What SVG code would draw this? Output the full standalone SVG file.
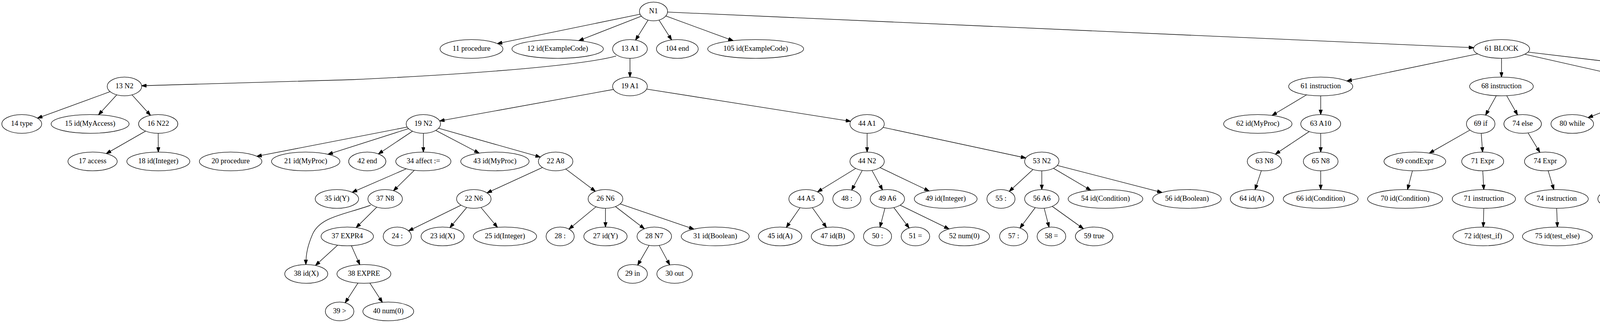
<svg xmlns="http://www.w3.org/2000/svg" width="5273" height="827" viewBox="0 0 5273 827">
<style>
.nd ellipse{fill:none;stroke:#000;stroke-width:1.33}
.nd text{font-family:"Liberation Serif","Times New Roman",serif;font-size:18.67px;text-anchor:middle;fill:#000}
.e{fill:none;stroke:#000;stroke-width:1.33;marker-end:url(#arr)}
</style>
<defs>
<marker id="arr" viewBox="0 0 13.33 9.33" refX="12.6" refY="4.67" markerWidth="13.33" markerHeight="9.33" orient="auto" markerUnits="userSpaceOnUse">
<path d="M0,0 L13.33,4.67 L0,9.33 z" fill="#000" stroke="#000" stroke-width="1"/>
</marker>
</defs>
<rect x="0" y="0" width="5273" height="827" fill="#fff"/>
<g id="edges">
<path class="e" d="M1638.6,36.4 L1273.2,111.7"/>
<path class="e" d="M1642,41.4 L1481.9,104"/>
<path class="e" d="M1659.1,51.4 L1627,102.6"/>
<path class="e" d="M1687,51.4 L1719.3,102.2"/>
<path class="e" d="M1704.5,40.9 L1876.8,104.1"/>
<path class="e" d="M1708.9,30.9 L3772.9,122.2"/>
<path class="e" d="M1577.4,143.3 C1500,165 1250,188 900,204 C700,211 500,217 362.8,219.5"/>
<path class="e" d="M1612.7,149.3 L1612.7,197.3"/>
<path class="e" d="M281.9,234.7 L96,302.6"/>
<path class="e" d="M298.9,242.8 L252.2,293.9"/>
<path class="e" d="M338,242.9 L385.2,295.3"/>
<path class="e" d="M372.8,335.7 L272,393.3"/>
<path class="e" d="M405,341.3 L405.3,389.3"/>
<path class="e" d="M1570.5,229 L1125.5,309.7"/>
<path class="e" d="M1655.4,228.1 L2177.6,310.6"/>
<path class="e" d="M1042.4,325.4 L657.5,400.2"/>
<path class="e" d="M1045.8,329.4 L839.7,395.1"/>
<path class="e" d="M1056,335.9 L968.7,394.2"/>
<path class="e" d="M1083.8,341.3 L1083.8,389.3"/>
<path class="e" d="M1115.5,333.9 L1226.4,392"/>
<path class="e" d="M1122.8,328.4 L1383.2,402.2"/>
<path class="e" d="M1040.3,432.2 L901.7,492.3"/>
<path class="e" d="M1060.7,436 L1007.4,488.3"/>
<path class="e" d="M948.9,525.5 C880,550 820,555 800,600 C788,628 783,650 783,677.3"/>
<path class="e" d="M964.7,530.3 L911.8,582.7"/>
<path class="e" d="M864.6,627.6 L807.7,679.6"/>
<path class="e" d="M899.5,629 L921.1,677.6"/>
<path class="e" d="M916.4,724.7 L883.7,775.2"/>
<path class="e" d="M946.8,724.7 L978.8,774"/>
<path class="e" d="M1388.6,428.8 L1246.8,493.8"/>
<path class="e" d="M1448.3,432.8 L1524.1,489.8"/>
<path class="e" d="M1180.2,525.4 L1046,591.1"/>
<path class="e" d="M1194.8,531.2 L1151.8,582.7"/>
<path class="e" d="M1231.2,531.2 L1273.4,582"/>
<path class="e" d="M1525.7,529.4 L1456.6,586.6"/>
<path class="e" d="M1550,533.3 L1550,581.3"/>
<path class="e" d="M1575.6,528.9 L1649.5,585.7"/>
<path class="e" d="M1587.6,522.1 L1776.3,586.6"/>
<path class="e" d="M1661.7,628.2 L1632.4,678.8"/>
<path class="e" d="M1687.5,628.3 L1714.5,678.2"/>
<path class="e" d="M2219.8,341.3 L2219.8,389.3"/>
<path class="e" d="M2260.8,326.1 L2626.1,404.5"/>
<path class="e" d="M2190.6,431.3 L2092.9,491.3"/>
<path class="e" d="M2207.4,436.3 L2180.2,486.7"/>
<path class="e" d="M2232.2,436.3 L2259.3,486.3"/>
<path class="e" d="M2252.9,429.1 L2378.4,489"/>
<path class="e" d="M2048,531.8 L2013,582.3"/>
<path class="e" d="M2079.6,531.7 L2115.7,582.4"/>
<path class="e" d="M2265.5,533.1 L2252.7,581.7"/>
<path class="e" d="M2288.3,531.5 L2327.4,583.8"/>
<path class="e" d="M2304.5,525.3 L2429.4,586.2"/>
<path class="e" d="M2644.5,433.9 L2583.7,489.9"/>
<path class="e" d="M2667,437.3 L2667,485.3"/>
<path class="e" d="M2696.9,430.9 L2792.5,487.2"/>
<path class="e" d="M2706.8,423.6 L2974.9,492.8"/>
<path class="e" d="M2650.3,531.5 L2611.1,583.9"/>
<path class="e" d="M2673.1,533.1 L2685.6,581.6"/>
<path class="e" d="M2693.7,528.4 L2773.5,585.6"/>
<path class="e" d="M3783,137.9 L3447.9,207.4"/>
<path class="e" d="M3843.9,149.3 L3843.8,197.3"/>
<path class="e" d="M3903.4,138.8 L4202.9,206.6"/>
<path class="e" d="M3911.6,133.4 L4569.5,211.7"/>
<path class="e" d="M3344.9,242.8 L3256.6,295.5"/>
<path class="e" d="M3381,245.3 L3381,293.3"/>
<path class="e" d="M3351.6,336.9 L3264.9,394.7"/>
<path class="e" d="M3381,341.3 L3381,389.3"/>
<path class="e" d="M3229.1,436.9 L3212.9,485.5"/>
<path class="e" d="M3381,437.3 L3381,485.3"/>
<path class="e" d="M3830.6,245 L3803.1,294.7"/>
<path class="e" d="M3857.1,245 L3884.9,294.2"/>
<path class="e" d="M3763,333 L3659.2,392.1"/>
<path class="e" d="M3791.9,341.3 L3795.4,389.3"/>
<path class="e" d="M3911.9,340.3 L3942,390.1"/>
<path class="e" d="M3615.8,437.3 L3603.2,485.3"/>
<path class="e" d="M3795.9,437.3 L3798.5,485.3"/>
<path class="e" d="M3963.2,437.1 L3977.8,485.4"/>
<path class="e" d="M3798.6,533.3 L3797.1,581.3"/>
<path class="e" d="M3985.1,533.3 L3986.9,581.3"/>
<path class="e" d="M4218.9,240.6 L4065.5,301.3"/>
<path class="e" d="M4239.5,243.8 L4172.6,297.4"/>
<path class="e" d="M4267.6,245.3 L4267.5,293.3"/>
<path class="e" d="M4296.6,243.7 L4365.7,297.2"/>
<path class="e" d="M4317.7,240.3 L4478,301"/>
<path class="e" d="M4331.3,236.3 L4615.7,303.5"/>
<path class="e" d="M4691.7,242.4 L4800.3,297.4"/>
<path class="e" d="M4147.5,341.3 L4145.5,485.3"/>
<path class="e" d="M4170,338.1 L4226.9,390.9"/>
<path class="e" d="M4226.4,435.6 L4168.8,487.7"/>
<path class="e" d="M4261.4,437 L4282.6,485.6"/>
<path class="e" d="M4277.8,532.7 L4245,583.2"/>
<path class="e" d="M4308.1,532.7 L4339.9,582"/>
<path class="e" d="M4647.8,339.6 L4587,390.6"/>
<path class="e" d="M4691.7,340.6 L4728.5,389.9"/>
<path class="e" d="M4721.3,335.4 L4876.3,395.3"/>
<path class="e" d="M4533.7,436 L4474.4,487.3"/>
<path class="e" d="M4565.3,437.3 L4576.1,485.5"/>
<path class="e" d="M4581.4,533.3 L4581,581.3"/>
<path class="e" d="M4746,437.3 L4746.4,485.3"/>
<path class="e" d="M4922.8,437.3 L4922.6,485.3"/>
<path class="e" d="M4951,435.3 L5019.9,489.6"/>
<path class="e" d="M5034.5,532.5 C5018,585 5000,630 4997.5,677.3"/>
<path class="e" d="M5057.5,532.3 L5084.2,581.7"/>
<path class="e" d="M5072.5,627.7 L5015.7,679.7"/>
<path class="e" d="M5107.6,629 L5129.4,677.6"/>
<path class="e" d="M5124.6,724.7 L5091.5,775.3"/>
<path class="e" d="M5155.2,724.7 L5187.3,774"/>
</g>
<g id="n-N1" class="nd"><ellipse cx="1673" cy="29.3" rx="36" ry="24"/><text x="1673" y="34.3">N1</text></g>
<g id="n11-procedure" class="nd"><ellipse cx="1207" cy="125.3" rx="80.5" ry="24"/><text x="1207" y="130.3">11 procedure</text></g>
<g id="n12-id-ExampleCode" class="nd"><ellipse cx="1427.6" cy="125.3" rx="117" ry="24"/><text x="1427.6" y="130.3">12 id(ExampleCode)</text></g>
<g id="n13-A1" class="nd"><ellipse cx="1612.7" cy="125.3" rx="44.5" ry="24"/><text x="1612.7" y="130.3">13 A1</text></g>
<g id="n104-end" class="nd"><ellipse cx="1734" cy="125.3" rx="53.5" ry="24"/><text x="1734" y="130.3">104 end</text></g>
<g id="n105-id-ExampleCode" class="nd"><ellipse cx="1934.5" cy="125.3" rx="122.8" ry="24"/><text x="1934.5" y="130.3">105 id(ExampleCode)</text></g>
<g id="n61-BLOCK" class="nd"><ellipse cx="3844" cy="125.3" rx="71.8" ry="24"/><text x="3844" y="130.3">61 BLOCK</text></g>
<g id="n13-N2" class="nd"><ellipse cx="318.6" cy="221.3" rx="44.2" ry="24"/><text x="318.6" y="226.3">13 N2</text></g>
<g id="n19-A1" class="nd"><ellipse cx="1612.7" cy="221.3" rx="44.5" ry="24"/><text x="1612.7" y="226.3">19 A1</text></g>
<g id="n61-instruction" class="nd"><ellipse cx="3381" cy="221.3" rx="82" ry="24"/><text x="3381" y="226.3">61 instruction</text></g>
<g id="n68-instruction" class="nd"><ellipse cx="3843.7" cy="221.3" rx="81.5" ry="24"/><text x="3843.7" y="226.3">68 instruction</text></g>
<g id="n79-instruction" class="nd"><ellipse cx="4267.6" cy="221.3" rx="81.8" ry="24"/><text x="4267.6" y="226.3">79 instruction</text></g>
<g id="n101-instruction" class="nd"><ellipse cx="4650" cy="221.3" rx="87.8" ry="24"/><text x="4650" y="226.3">101 instruction</text></g>
<g id="n14-type" class="nd"><ellipse cx="55.7" cy="317.3" rx="51" ry="24"/><text x="55.7" y="322.3">14 type</text></g>
<g id="n15-id-MyAccess" class="nd"><ellipse cx="230.7" cy="317.3" rx="99.8" ry="24"/><text x="230.7" y="322.3">15 id(MyAccess)</text></g>
<g id="n16-N22" class="nd"><ellipse cx="405" cy="317.3" rx="50.2" ry="24"/><text x="405" y="322.3">16 N22</text></g>
<g id="n19-N2" class="nd"><ellipse cx="1083.8" cy="317.3" rx="44" ry="24"/><text x="1083.8" y="322.3">19 N2</text></g>
<g id="n44-A1" class="nd"><ellipse cx="2219.8" cy="317.3" rx="44" ry="24"/><text x="2219.8" y="322.3">44 A1</text></g>
<g id="n62-id-MyProc" class="nd"><ellipse cx="3220" cy="317.3" rx="87.5" ry="24"/><text x="3220" y="322.3">62 id(MyProc)</text></g>
<g id="n63-A10" class="nd"><ellipse cx="3381" cy="317.3" rx="51" ry="24"/><text x="3381" y="322.3">63 A10</text></g>
<g id="n69-if" class="nd"><ellipse cx="3790.6" cy="317.3" rx="36.5" ry="24"/><text x="3790.6" y="322.3">69 if</text></g>
<g id="n74-else" class="nd"><ellipse cx="3898" cy="317.3" rx="48" ry="24"/><text x="3898" y="322.3">74 else</text></g>
<g id="n80-while" class="nd"><ellipse cx="4025" cy="317.3" rx="54.5" ry="24"/><text x="4025" y="322.3">80 while</text></g>
<g id="n80-N8" class="nd"><ellipse cx="4147.7" cy="317.3" rx="44.5" ry="24"/><text x="4147.7" y="322.3">80 N8</text></g>
<g id="n84-loop" class="nd"><ellipse cx="4267.5" cy="317.3" rx="51.5" ry="24"/><text x="4267.5" y="322.3">84 loop</text></g>
<g id="n99-end" class="nd"><ellipse cx="4391.7" cy="317.3" rx="47.5" ry="24"/><text x="4391.7" y="322.3">99 end</text></g>
<g id="n100-loop" class="nd"><ellipse cx="4521" cy="317.3" rx="58.5" ry="24"/><text x="4521" y="322.3">100 loop</text></g>
<g id="n84-BLOCK" class="nd"><ellipse cx="4674.3" cy="317.3" rx="71.8" ry="24"/><text x="4674.3" y="322.3">84 BLOCK</text></g>
<g id="n102-id-test" class="nd"><ellipse cx="4839.7" cy="317.3" rx="70.6" ry="24"/><text x="4839.7" y="322.3">102 id(test)</text></g>
<g id="n17-access" class="nd"><ellipse cx="237" cy="413.3" rx="63" ry="24"/><text x="237" y="418.3">17 access</text></g>
<g id="n18-id-Integer" class="nd"><ellipse cx="405.3" cy="413.3" rx="80.6" ry="24"/><text x="405.3" y="418.3">18 id(Integer)</text></g>
<g id="n20-procedure" class="nd"><ellipse cx="590.4" cy="413.3" rx="80" ry="24"/><text x="590.4" y="418.3">20 procedure</text></g>
<g id="n21-id-MyProc" class="nd"><ellipse cx="782.6" cy="413.3" rx="87.5" ry="24"/><text x="782.6" y="418.3">21 id(MyProc)</text></g>
<g id="n42-end" class="nd"><ellipse cx="940.2" cy="413.3" rx="47.6" ry="24"/><text x="940.2" y="418.3">42 end</text></g>
<g id="n34-affect" class="nd"><ellipse cx="1083.8" cy="413.3" rx="70.6" ry="24"/><text x="1083.8" y="418.3">34 affect :=</text></g>
<g id="n43-id-MyProc" class="nd"><ellipse cx="1267" cy="413.3" rx="87.5" ry="24"/><text x="1267" y="418.3">43 id(MyProc)</text></g>
<g id="n22-A8" class="nd"><ellipse cx="1422.4" cy="413.3" rx="44.2" ry="24"/><text x="1422.4" y="418.3">22 A8</text></g>
<g id="n44-N2" class="nd"><ellipse cx="2219.8" cy="413.3" rx="44" ry="24"/><text x="2219.8" y="418.3">44 N2</text></g>
<g id="n53-N2" class="nd"><ellipse cx="2667" cy="413.3" rx="44" ry="24"/><text x="2667" y="418.3">53 N2</text></g>
<g id="n63-N8" class="nd"><ellipse cx="3237" cy="413.3" rx="44" ry="24"/><text x="3237" y="418.3">63 N8</text></g>
<g id="n65-N8" class="nd"><ellipse cx="3381" cy="413.3" rx="44.5" ry="24"/><text x="3381" y="418.3">65 N8</text></g>
<g id="n69-condExpr" class="nd"><ellipse cx="3622" cy="413.3" rx="79" ry="24"/><text x="3622" y="418.3">69 condExpr</text></g>
<g id="n71-Expr" class="nd"><ellipse cx="3795.7" cy="413.3" rx="53.7" ry="24"/><text x="3795.7" y="418.3">71 Expr</text></g>
<g id="n74-Expr" class="nd"><ellipse cx="3956" cy="413.3" rx="53.3" ry="24"/><text x="3956" y="418.3">74 Expr</text></g>
<g id="n80-EXPR4" class="nd"><ellipse cx="4251" cy="413.3" rx="67" ry="24"/><text x="4251" y="418.3">80 EXPR4</text></g>
<g id="n84-instruction" class="nd"><ellipse cx="4560" cy="413.3" rx="81.8" ry="24"/><text x="4560" y="418.3">84 instruction</text></g>
<g id="n89-instruction" class="nd"><ellipse cx="4746" cy="413.3" rx="81.5" ry="24"/><text x="4746" y="418.3">89 instruction</text></g>
<g id="n91-affect" class="nd"><ellipse cx="4923" cy="413.3" rx="70.6" ry="24"/><text x="4923" y="418.3">91 affect :=</text></g>
<g id="n35-id-Y" class="nd"><ellipse cx="862.5" cy="509.3" rx="55.5" ry="24"/><text x="862.5" y="514.3">35 id(Y)</text></g>
<g id="n37-N8" class="nd"><ellipse cx="986" cy="509.3" rx="44.2" ry="24"/><text x="986" y="514.3">37 N8</text></g>
<g id="n22-N6" class="nd"><ellipse cx="1213" cy="509.3" rx="44.2" ry="24"/><text x="1213" y="514.3">22 N6</text></g>
<g id="n26-N6" class="nd"><ellipse cx="1550" cy="509.3" rx="44.5" ry="24"/><text x="1550" y="514.3">26 N6</text></g>
<g id="n44-A5" class="nd"><ellipse cx="2063.6" cy="509.3" rx="44.2" ry="24"/><text x="2063.6" y="514.3">44 A5</text></g>
<g id="n48-colon" class="nd"><ellipse cx="2168" cy="509.3" rx="36" ry="24"/><text x="2168" y="514.3">48 :</text></g>
<g id="n49-A6" class="nd"><ellipse cx="2271.7" cy="509.3" rx="44" ry="24"/><text x="2271.7" y="514.3">49 A6</text></g>
<g id="n49-id-Integer" class="nd"><ellipse cx="2421" cy="509.3" rx="80.4" ry="24"/><text x="2421" y="514.3">49 id(Integer)</text></g>
<g id="n55-colon" class="nd"><ellipse cx="2562.5" cy="509.3" rx="36" ry="24"/><text x="2562.5" y="514.3">55 :</text></g>
<g id="n56-A6" class="nd"><ellipse cx="2667" cy="509.3" rx="44" ry="24"/><text x="2667" y="514.3">56 A6</text></g>
<g id="n54-id-Condition" class="nd"><ellipse cx="2830" cy="509.3" rx="95.6" ry="24"/><text x="2830" y="514.3">54 id(Condition)</text></g>
<g id="n56-id-Boolean" class="nd"><ellipse cx="3038.6" cy="509.3" rx="87.6" ry="24"/><text x="3038.6" y="514.3">56 id(Boolean)</text></g>
<g id="n64-id-A" class="nd"><ellipse cx="3205" cy="509.3" rx="55.4" ry="24"/><text x="3205" y="514.3">64 id(A)</text></g>
<g id="n66-id-Condition" class="nd"><ellipse cx="3381" cy="509.3" rx="95.8" ry="24"/><text x="3381" y="514.3">66 id(Condition)</text></g>
<g id="n70-id-Condition" class="nd"><ellipse cx="3597" cy="509.3" rx="96" ry="24"/><text x="3597" y="514.3">70 id(Condition)</text></g>
<g id="n71-instruction" class="nd"><ellipse cx="3798.7" cy="509.3" rx="81" ry="24"/><text x="3798.7" y="514.3">71 instruction</text></g>
<g id="n74-instruction" class="nd"><ellipse cx="3985" cy="509.3" rx="81" ry="24"/><text x="3985" y="514.3">74 instruction</text></g>
<g id="n81-id-B" class="nd"><ellipse cx="4145" cy="509.3" rx="54.5" ry="24"/><text x="4145" y="514.3">81 id(B)</text></g>
<g id="n81-EXPRE" class="nd"><ellipse cx="4293" cy="509.3" rx="69" ry="24"/><text x="4293" y="514.3">81 EXPRE</text></g>
<g id="n85-id-Put" class="nd"><ellipse cx="4449" cy="509.3" rx="63.5" ry="24"/><text x="4449" y="514.3">85 id(Put)</text></g>
<g id="n86-N8" class="nd"><ellipse cx="4581.4" cy="509.3" rx="44.2" ry="24"/><text x="4581.4" y="514.3">86 N8</text></g>
<g id="n90-id-New_Line" class="nd"><ellipse cx="4746.6" cy="509.3" rx="97.6" ry="24"/><text x="4746.6" y="514.3">90 id(New_Line)</text></g>
<g id="n92-id-B" class="nd"><ellipse cx="4922.6" cy="509.3" rx="54.8" ry="24"/><text x="4922.6" y="514.3">92 id(B)</text></g>
<g id="n94-N8" class="nd"><ellipse cx="5045" cy="509.3" rx="44.2" ry="24"/><text x="5045" y="514.3">94 N8</text></g>
<g id="n37-EXPR4" class="nd"><ellipse cx="889" cy="605.3" rx="67" ry="24"/><text x="889" y="610.3">37 EXPR4</text></g>
<g id="n24-colon" class="nd"><ellipse cx="1017" cy="605.3" rx="36" ry="24"/><text x="1017" y="610.3">24 :</text></g>
<g id="n23-id-X" class="nd"><ellipse cx="1133" cy="605.3" rx="55" ry="24"/><text x="1133" y="610.3">23 id(X)</text></g>
<g id="n25-id-Integer" class="nd"><ellipse cx="1292.7" cy="605.3" rx="81" ry="24"/><text x="1292.7" y="610.3">25 id(Integer)</text></g>
<g id="n28-colon" class="nd"><ellipse cx="1434" cy="605.3" rx="36" ry="24"/><text x="1434" y="610.3">28 :</text></g>
<g id="n27-id-Y" class="nd"><ellipse cx="1550" cy="605.3" rx="55.4" ry="24"/><text x="1550" y="610.3">27 id(Y)</text></g>
<g id="n28-N7" class="nd"><ellipse cx="1675" cy="605.3" rx="44.2" ry="24"/><text x="1675" y="610.3">28 N7</text></g>
<g id="n31-id-Boolean" class="nd"><ellipse cx="1831" cy="605.3" rx="87" ry="24"/><text x="1831" y="610.3">31 id(Boolean)</text></g>
<g id="n45-id-A" class="nd"><ellipse cx="1997" cy="605.3" rx="55.6" ry="24"/><text x="1997" y="610.3">45 id(A)</text></g>
<g id="n47-id-B" class="nd"><ellipse cx="2132" cy="605.3" rx="55" ry="24"/><text x="2132" y="610.3">47 id(B)</text></g>
<g id="n50-colon" class="nd"><ellipse cx="2246.5" cy="605.3" rx="36" ry="24"/><text x="2246.5" y="610.3">50 :</text></g>
<g id="n51-eq" class="nd"><ellipse cx="2343.5" cy="605.3" rx="36.5" ry="24"/><text x="2343.5" y="610.3">51 =</text></g>
<g id="n52-num-0" class="nd"><ellipse cx="2468.5" cy="605.3" rx="64.5" ry="24"/><text x="2468.5" y="610.3">52 num(0)</text></g>
<g id="n57-colon" class="nd"><ellipse cx="2595" cy="605.3" rx="36" ry="24"/><text x="2595" y="610.3">57 :</text></g>
<g id="n58-eq" class="nd"><ellipse cx="2691.7" cy="605.3" rx="36.7" ry="24"/><text x="2691.7" y="610.3">58 =</text></g>
<g id="n59-true" class="nd"><ellipse cx="2801" cy="605.3" rx="48" ry="24"/><text x="2801" y="610.3">59 true</text></g>
<g id="n72-id-test_if" class="nd"><ellipse cx="3797" cy="605.3" rx="77.5" ry="24"/><text x="3797" y="610.3">72 id(test_if)</text></g>
<g id="n75-id-test_else" class="nd"><ellipse cx="3987" cy="605.3" rx="89.5" ry="24"/><text x="3987" y="610.3">75 id(test_else)</text></g>
<g id="n82-lt" class="nd"><ellipse cx="4230.6" cy="605.3" rx="36.7" ry="24"/><text x="4230.6" y="610.3">82 &lt;</text></g>
<g id="n83-num-5" class="nd"><ellipse cx="4355" cy="605.3" rx="65" ry="24"/><text x="4355" y="610.3">83 num(5)</text></g>
<g id="n87-id-B" class="nd"><ellipse cx="4581" cy="605.3" rx="54.5" ry="24"/><text x="4581" y="610.3">87 id(B)</text></g>
<g id="n94-EXPR5" class="nd"><ellipse cx="5097" cy="605.3" rx="68" ry="24"/><text x="5097" y="610.3">94 EXPR5</text></g>
<g id="n38-id-X" class="nd"><ellipse cx="784" cy="701.3" rx="55" ry="24"/><text x="784" y="706.3">38 id(X)</text></g>
<g id="n38-EXPRE" class="nd"><ellipse cx="931.6" cy="701.3" rx="69" ry="24"/><text x="931.6" y="706.3">38 EXPRE</text></g>
<g id="n29-in" class="nd"><ellipse cx="1619.3" cy="701.3" rx="38" ry="24"/><text x="1619.3" y="706.3">29 in</text></g>
<g id="n30-out" class="nd"><ellipse cx="1727" cy="701.3" rx="45.5" ry="24"/><text x="1727" y="706.3">30 out</text></g>
<g id="n95-id-B" class="nd"><ellipse cx="4992" cy="701.3" rx="54.5" ry="24"/><text x="4992" y="706.3">95 id(B)</text></g>
<g id="n95-EXPRF" class="nd"><ellipse cx="5140" cy="701.3" rx="69" ry="24"/><text x="5140" y="706.3">95 EXPRF</text></g>
<g id="n39-gt" class="nd"><ellipse cx="869.4" cy="797.3" rx="36.5" ry="24"/><text x="869.4" y="802.3">39 &gt;</text></g>
<g id="n40-num-0" class="nd"><ellipse cx="994" cy="797.3" rx="65" ry="24"/><text x="994" y="802.3">40 num(0)</text></g>
<g id="n96-plus" class="nd"><ellipse cx="5077" cy="797.3" rx="36.5" ry="24"/><text x="5077" y="802.3">96 +</text></g>
<g id="n97-num-1" class="nd"><ellipse cx="5202.5" cy="797.3" rx="65" ry="24"/><text x="5202.5" y="802.3">97 num(1)</text></g>
</svg>
